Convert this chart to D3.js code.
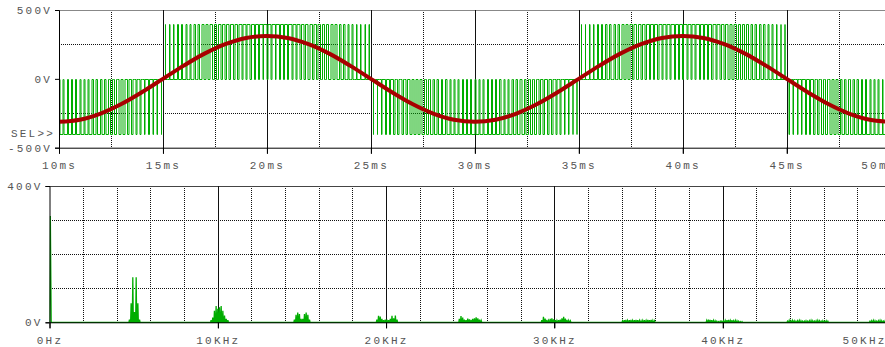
<!DOCTYPE html>
<html>
<head>
<meta charset="utf-8">
<script src="https://cdn.jsdelivr.net/npm/d3@7"></script>
<style>
  body { margin: 0; background: #fff; }
  svg { display: block; }
  .lbl text { font-family: "Liberation Mono", "DejaVu Sans Mono", monospace; font-size: 11px; letter-spacing: 2.2px; fill: #555; }
</style>
</head>
<body>
<svg id="chart" width="885" height="347"></svg>
<script>
// --- top plot: time domain ---
const timeTicks = [10, 15, 20, 25, 30, 35, 40, 45, 50];
const timeMinor = [12.5, 17.5, 22.5, 27.5, 32.5, 37.5, 42.5, 47.5];
const voltTicks = [-500, 0, 500];
const voltMinor = [-250, 250];

// filtered output (red), read every 1 ms
const sineMs = d3.range(10, 51);
const sineV = [-312, -297, -252, -183, -96, 0, 96, 183, 252, 297,
  312, 297, 252, 183, 96, 0, -96, -183, -252, -297,
  -312, -297, -252, -183, -96, 0, 96, 183, 252, 297,
  312, 297, 252, 183, 96, 0, -96, -183, -252, -297, -312];

// PWM bridge output (green): 5 kHz pulses, ±400 V, duty per pulse in a half cycle
const pwmLevel = 400;
const pulseMs = 0.2;
const halfStartMs = [5, 15, 25, 35, 45];
const halfSign = [-1, 1, -1, 1, -1];
const pulseDuty = [0.024, 0.073, 0.122, 0.170, 0.218, 0.264, 0.310, 0.354, 0.397, 0.438,
  0.478, 0.516, 0.552, 0.585, 0.616, 0.645, 0.671, 0.695, 0.716, 0.734,
  0.749, 0.761, 0.770, 0.777, 0.780, 0.780, 0.777, 0.770, 0.761, 0.749,
  0.734, 0.716, 0.695, 0.671, 0.645, 0.616, 0.585, 0.552, 0.516, 0.478,
  0.438, 0.397, 0.354, 0.310, 0.264, 0.218, 0.170, 0.122, 0.073, 0.024];

// --- bottom plot: FFT ---
const freqTicks = [0, 10, 20, 30, 40, 50];
const freqMinor = [2, 4, 6, 8, 12, 14, 16, 18, 22, 24, 26, 28, 32, 34, 36, 38, 42, 44, 46, 48];
const specTicks = [0, 400];
const specMinor = [100, 200, 300];
const fundKHz = 0.05;
const fundV = 312;
// sideband clusters: first line (kHz), 0.1 kHz step, amplitudes (V)
const clusterStart = [4.75, 9.6, 14.55, 19.45, 24.35, 29.25, 34.05, 39.05, 43.85, 48.75];
const clusterAmps = [
  [8, 56, 132, 30, 132, 56, 8],
  [6, 14, 34, 48, 40, 44, 48, 34, 20, 10, 6],
  [8, 22, 29, 24, 10, 10, 24, 29, 22, 8],
  [8, 19, 17, 10, 6, 8, 8, 6, 10, 19, 12, 20, 8],
  [10, 18, 14, 8, 6, 11, 9, 7, 10, 12, 15, 12, 8, 5],
  [6, 16, 11, 7, 5, 10, 12, 9, 6, 5, 6, 8, 12, 16, 11, 7, 5, 4],
  [4, 6, 7, 5, 6, 7, 5, 6, 7, 6, 5, 4, 5, 6, 5, 7, 6, 7, 5, 4],
  [5, 8, 7, 6, 5, 4, 3, 2, 3, 3, 4, 5, 6, 7, 5, 6, 4, 5, 4, 3, 2, 2],
  [3, 5, 4, 5, 4, 3, 4, 5, 4, 3, 3, 4, 3, 4, 5, 4, 3, 4, 5, 4, 3, 4, 3, 4, 3],
  [3, 4, 5, 4, 3, 4, 5, 4, 3, 4, 5, 4, 4]
];

const svg = d3.select('#chart');
const green = '#00ad00';

// scales
const x1 = d3.scaleLinear().domain([10, 50]).range([59, 890.6]);
const y1 = d3.scaleLinear().domain([-500, 500]).range([147.7, 10]);
const x2 = d3.scaleLinear().domain([0, 50]).range([49.5, 891]);
const y2 = d3.scaleLinear().domain([0, 400]).range([322.3, 186]);
const px = v => Math.round(v) + 0.5;
const halfPx = v => Math.round(v * 2) / 2 + 0.5;

function grid(g, xs, ys, xMaj, xMin, yMin, top) {
  g.selectAll('.vmin').data(xMin).join('line')
    .attr('x1', d => px(xs(d))).attr('x2', d => px(xs(d)))
    .attr('y1', Math.round(ys.range()[1])).attr('y2', Math.round(ys.range()[0]))
    .attr('stroke', '#111').attr('stroke-dasharray', '1,1');
  g.selectAll('.hmin').data(yMin).join('line')
    .attr('x1', Math.round(xs.range()[0])).attr('x2', 885)
    .attr('y1', d => px(ys(d))).attr('y2', d => px(ys(d)))
    .attr('stroke', '#111').attr('stroke-dasharray', '1,1');
  g.append('line').attr('x1', xs.range()[0]).attr('x2', 885)
    .attr('y1', px(ys.range()[1])).attr('y2', px(ys.range()[1]))
    .attr('stroke', top ? '#888' : '#444');
  g.selectAll('.vmaj').data(xMaj.slice(1)).join('line')
    .attr('x1', d => px(xs(d))).attr('x2', d => px(xs(d)))
    .attr('y1', ys.range()[1]).attr('y2', ys.range()[0] + 6)
    .attr('stroke', '#111');
}

function axes(g, xs, ys, xTicks, yTicks, xFmt) {
  const ax = g.append('g').attr('class', 'lbl')
    .attr('transform', `translate(0,${ys.range()[0]})`)
    .call(d3.axisBottom(xs).tickValues(xTicks).tickFormat(xFmt).tickSize(6).tickPadding(8));
  ax.select('.domain').attr('stroke', '#000');
  ax.selectAll('.tick line').attr('stroke', '#000');
  // last label is pulled inside like the original plotter does
  ax.selectAll('.tick').filter(d => d === xTicks[xTicks.length - 1])
    .select('text').attr('text-anchor', 'end').attr('x', d => 896 - xs(d) + (xs.range()[0] > 55 ? 0 : -10));
  const ay = g.append('g').attr('class', 'lbl')
    .attr('transform', `translate(${xs.range()[0]},0)`)
    .call(d3.axisLeft(ys).tickValues(yTicks).tickFormat(d => d + 'V').tickSize(4).tickPadding(3));
  ay.select('.domain').attr('stroke', '#000');
  ay.selectAll('.tick line').attr('stroke', '#000');
  ax.selectAll('text').attr('font-family', null).attr('font-size', null);
  ay.selectAll('text').attr('font-family', null).attr('font-size', null);
}

svg.append('clipPath').attr('id', 'c1').append('rect')
  .attr('x', 59).attr('y', 9).attr('width', 830).attr('height', 139);
svg.append('clipPath').attr('id', 'c2').append('rect')
  .attr('x', 49.5).attr('y', 185).attr('width', 840).attr('height', 138);

// ---- top plot ----
const g1 = svg.append('g');
grid(g1, x1, y1, timeTicks, timeMinor, voltMinor, true);

const pwm = [];
for (let n = 0; n < 200; n++) {
  const t0 = 10 + n * pulseMs;
  const h = Math.floor((t0 + 1e-6 - halfStartMs[0]) / 10);
  const k = Math.round((t0 - halfStartMs[h]) / pulseMs);
  const half = pulseDuty[k] * pulseMs / 2;
  const mid = t0 + pulseMs / 2;
  const v = halfSign[h] * pwmLevel;
  pwm.push([t0, 0], [mid - half, 0], [mid - half, v], [mid + half, v], [mid + half, 0], [t0 + pulseMs, 0]);
}
g1.append('path').attr('clip-path', 'url(#c1)')
  .attr('d', d3.line().x(d => halfPx(x1(d[0]))).y(d => px(y1(d[1])))(pwm))
  .attr('fill', 'none').attr('stroke', green).attr('stroke-width', 1);

g1.append('path').attr('clip-path', 'url(#c1)')
  .attr('d', d3.line().curve(d3.curveCatmullRom).x((d, i) => x1(sineMs[i])).y(d => y1(d))(sineV))
  .attr('fill', 'none').attr('stroke', '#a80000').attr('stroke-width', 4);

axes(g1, x1, y1, timeTicks, voltTicks, d => d + 'ms');
g1.append('g').attr('class', 'lbl').append('text')
  .attr('x', 55).attr('y', 137).attr('text-anchor', 'end').text('SEL>>');

// ---- bottom plot ----
const g2 = svg.append('g');
grid(g2, x2, y2, freqTicks, freqMinor, specMinor, false);

const spec = [[0, 0], [fundKHz, fundV], [fundKHz * 2, 0]];
clusterStart.forEach((f0, c) => {
  clusterAmps[c].forEach((a, i) => {
    const f = f0 + i * 0.1;
    spec.push([f - 0.03, 0], [f, a], [f + 0.03, 0]);
  });
});
spec.push([50, 0]);
g2.append('path').attr('clip-path', 'url(#c2)')
  .attr('d', d3.line().x(d => x2(d[0])).y(d => y2(d[1]))(spec))
  .attr('fill', 'none').attr('stroke', green).attr('stroke-width', 1.3);

axes(g2, x2, y2, freqTicks, specTicks, d => d === 0 ? '0Hz' : d + 'KHz');
</script>
</body>
</html>
